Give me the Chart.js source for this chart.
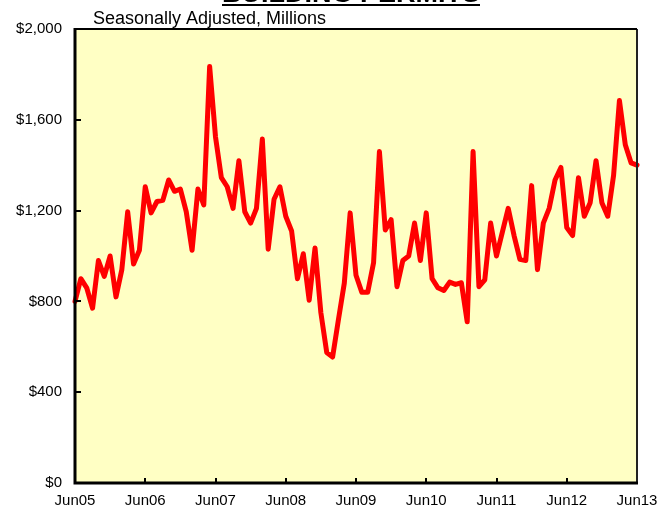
<!DOCTYPE html>
<html lang="en-US">
<head>
<meta charset="utf-8">
<title>Building Permits</title>
<script src="https://cdn.jsdelivr.net/npm/chart.js@4.4.1/dist/chart.umd.min.js"></script>
<style>
  html, body { margin: 0; padding: 0; background: #fff; }
  #holder { width: 667px; height: 512px; }
</style>
</head>
<body>
<div id="holder"><canvas id="chart"></canvas></div>
<script>
  const title = 'BUILDING PERMITS';
  const subtitle = 'Seasonally Adjusted, Millions';
  const yearLabels = ['Jun05', 'Jun06', 'Jun07', 'Jun08', 'Jun09', 'Jun10', 'Jun11', 'Jun12', 'Jun13'];
  // monthly values, Jun05 .. Jun13 ($ millions)
  const permits = [
    800, 900, 860, 770, 980, 910, 1000, 820, 940, 1195, 965, 1025,
    1305, 1190, 1240, 1245, 1335, 1285, 1295, 1195, 1025, 1295, 1225, 1835,
    1525, 1345, 1305, 1210, 1420, 1195, 1145, 1210, 1515, 1030, 1250, 1305,
    1175, 1110, 900, 1010, 805, 1035, 750, 575, 555, 720, 880, 1190,
    915, 840, 840, 970, 1460, 1115, 1160, 865, 980, 1000, 1145, 980,
    1190, 900, 860, 848, 885, 875, 882, 710, 1460, 865, 895, 1145,
    1000, 1105, 1210, 1090, 985, 980, 1310, 940, 1145, 1210, 1335, 1390,
    1125, 1090, 1345, 1175, 1235, 1420, 1235, 1175, 1355, 1685, 1490, 1410,
    1400
  ];
  const yTicks = [0, 400, 800, 1200, 1600, 2000];

  const FONT = "'Liberation Sans', Arial, sans-serif";

  const frame = {
    id: 'frame',
    beforeDraw(chart) {
      const { ctx, chartArea: a } = chart;
      ctx.save();
      ctx.fillStyle = '#FFFFC4';
      ctx.fillRect(a.left, a.top, a.right - a.left, a.bottom - a.top);
      ctx.restore();
    },
    afterDatasetsDraw(chart) {
      const { ctx, chartArea: a, scales } = chart;
      ctx.save();
      // inside tick marks
      ctx.strokeStyle = '#000';
      ctx.lineWidth = 2;
      ctx.beginPath();
      yTicks.forEach(v => {
        const y = Math.round(scales.y.getPixelForValue(v));
        ctx.moveTo(a.left, y);
        ctx.lineTo(a.left + 6, y);
      });
      yearLabels.forEach((l, i) => {
        const x = Math.round(scales.x.getPixelForValue(i * 12));
        ctx.moveTo(x, a.bottom);
        ctx.lineTo(x, a.bottom - 5);
      });
      ctx.stroke();
      // border
      ctx.lineWidth = 2;
      ctx.strokeStyle = '#222';
      ctx.beginPath();
      ctx.moveTo(a.right, a.top);
      ctx.lineTo(a.right, a.bottom);
      ctx.stroke();
      ctx.strokeStyle = '#000';
      ctx.beginPath();
      ctx.moveTo(a.left, a.top);
      ctx.lineTo(a.right, a.top);
      ctx.stroke();
      ctx.lineWidth = 3;
      ctx.beginPath();
      ctx.moveTo(a.left, a.top - 1);
      ctx.lineTo(a.left, a.bottom);
      ctx.lineTo(a.right + 1, a.bottom);
      ctx.stroke();
      // titles
      ctx.fillStyle = '#000';
      ctx.textBaseline = 'alphabetic';
      ctx.font = 'bold 27px ' + FONT;
      const tw = ctx.measureText(title).width;
      const tx = 351 - tw / 2;
      ctx.fillText(title, tx, 2);
      ctx.fillRect(tx, 4, tw, 2);
      ctx.font = '18px ' + FONT;
      ctx.fillText(subtitle, 93, 24);
      ctx.restore();
    }
  };

  const config = {
    type: 'line',
    data: {
      datasets: [{
        data: permits.map((v, i) => ({ x: i, y: v })),
        borderColor: '#FF0000',
        borderWidth: 5,
        pointRadius: 0,
        tension: 0,
        borderJoinStyle: 'round',
        borderCapStyle: 'round',
        clip: false
      }]
    },
    options: {
      responsive: true,
      maintainAspectRatio: false,
      animation: false,
      layout: { padding: { top: 29, right: 30, left: 0, bottom: 0 } },
      plugins: { legend: { display: false }, tooltip: { enabled: false } },
      scales: {
        x: {
          type: 'linear',
          min: 0,
          max: 96,
          afterFit: s => { s.height = 29; },
          afterBuildTicks: s => { s.ticks = yearLabels.map((l, i) => ({ value: i * 12 })); },
          grid: { display: false, drawTicks: false },
          border: { display: false },
          ticks: {
            padding: 9,
            color: '#000',
            font: { family: FONT, size: 15 },
            maxRotation: 0,
            autoSkip: false,
            callback: v => yearLabels[v / 12]
          }
        },
        y: {
          min: 0,
          max: 2000,
          afterFit: s => { s.width = 75; },
          afterBuildTicks: s => { s.ticks = yTicks.map(v => ({ value: v })); },
          grid: { display: false, drawTicks: false },
          border: { display: false },
          ticks: {
            padding: 13,
            color: '#000',
            font: { family: FONT, size: 15 },
            callback: v => '$' + v.toLocaleString('en-US')
          }
        }
      }
    },
    plugins: [frame]
  };

  new Chart(document.getElementById('chart').getContext('2d'), config);
</script>
</body>
</html>
